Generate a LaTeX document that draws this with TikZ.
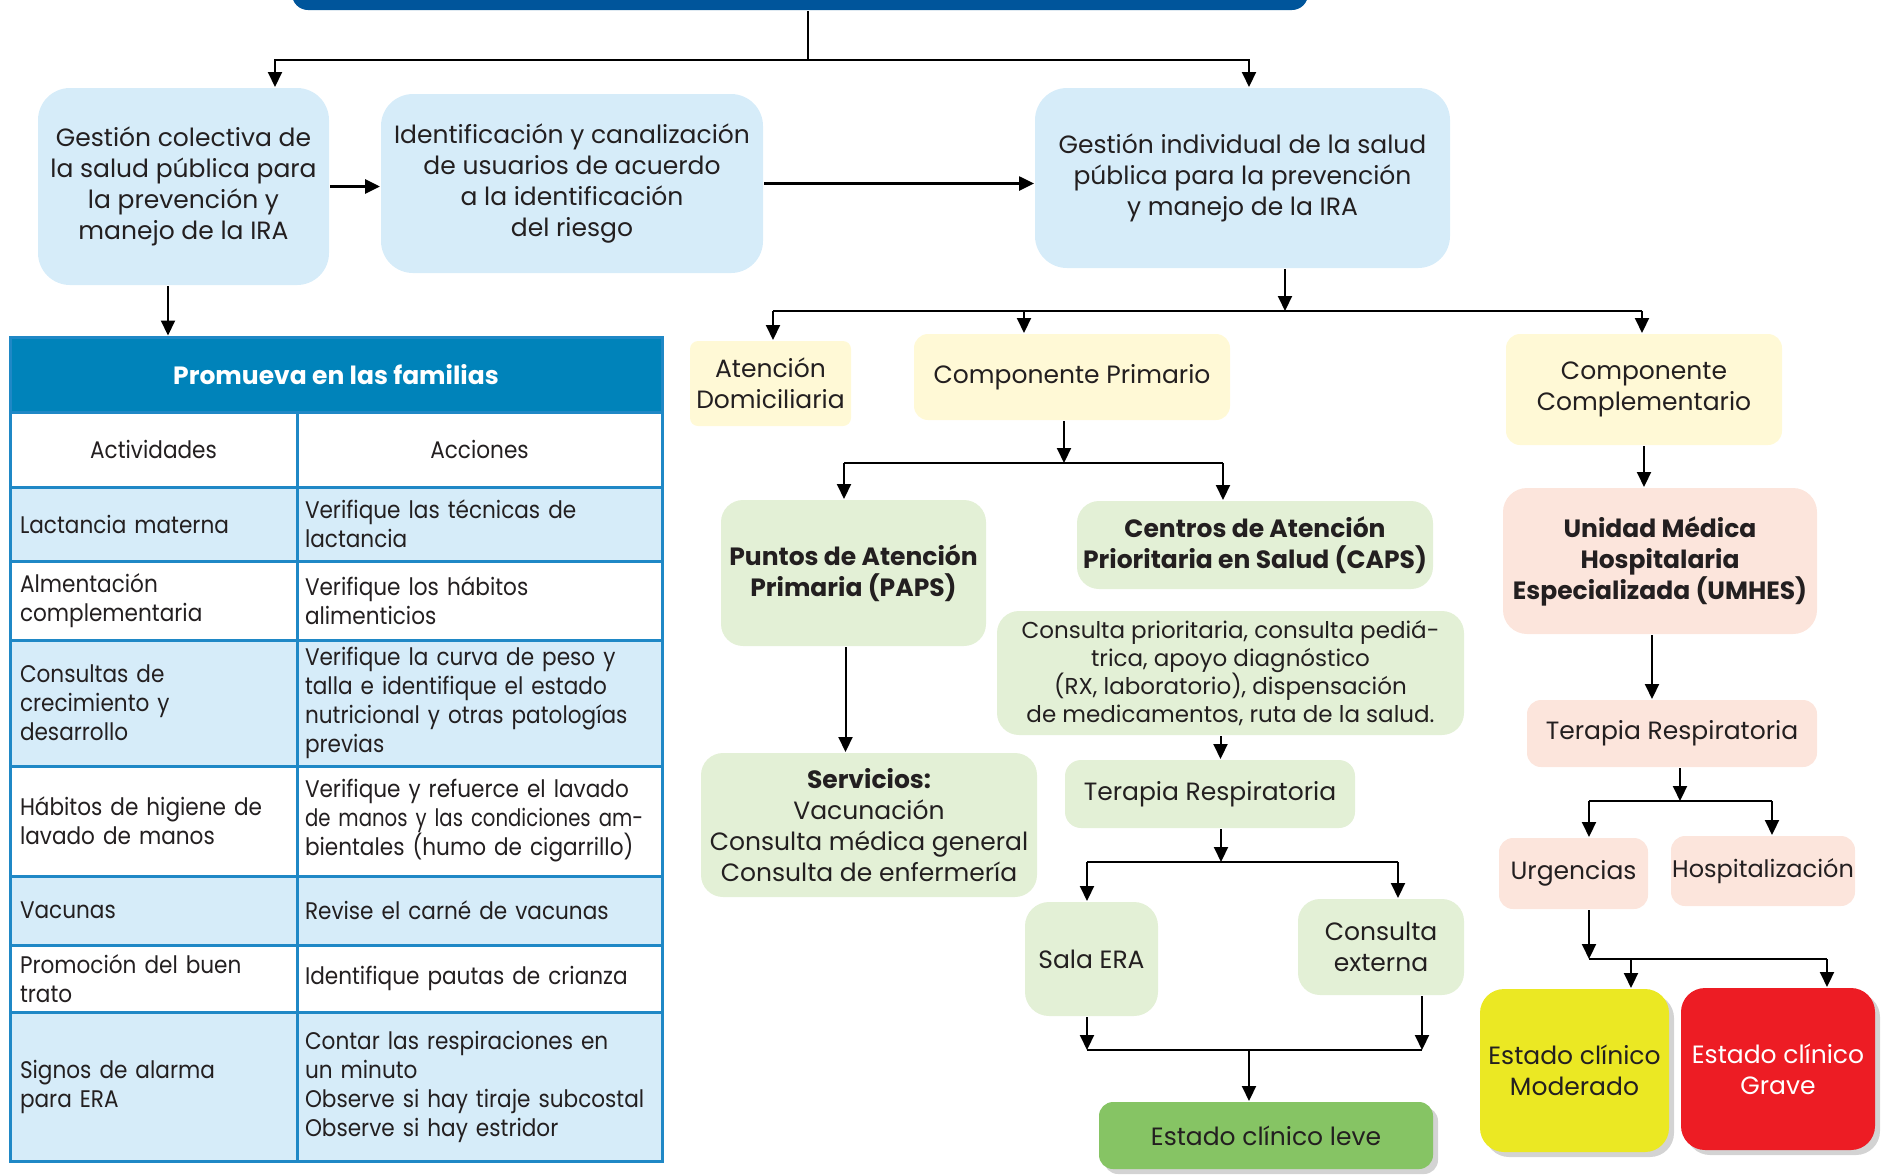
\documentclass[tikz,border=0pt]{standalone}
\usepackage{fontspec}
\setmainfont{Poppins}
\newfontfamily\tablefont[FakeStretch=0.9]{Poppins}
\newfontfamily\narrowfont[FakeStretch=0.82]{Poppins}
\usepackage{tikz}
\usetikzlibrary{arrows.meta,positioning,shadows}

\definecolor{barblue}{HTML}{00559B}
\definecolor{boxblue}{HTML}{D6ECF9}
\definecolor{headblue}{HTML}{0083BA}
\definecolor{lineblue}{HTML}{1F88C6}
\definecolor{boxyellow}{HTML}{FFF9D6}
\definecolor{boxgreen}{HTML}{E3F0D6}
\definecolor{boxpink}{HTML}{FCE5DC}
\definecolor{levegreen}{HTML}{86C464}
\definecolor{modyellow}{HTML}{EBE823}
\definecolor{graved}{HTML}{ED1C24}
\definecolor{txt}{HTML}{231F20}

\begin{document}
\begin{tikzpicture}[x=0.5pt,y=-0.5pt,->,>={Triangle[length=7.5pt,width=7pt]},line width=1pt,
	txtnode/.style={align=center,text=txt,font=\fontsize{12.5}{15.5}\selectfont,inner sep=0pt},
	bluenode/.style={txtnode,fill=boxblue,rounded corners=16pt},
	yellownode/.style={txtnode,fill=boxyellow,rounded corners=7pt},
	greennode/.style={txtnode,fill=boxgreen,rounded corners=11pt},
	pinknode/.style={txtnode,fill=boxpink,rounded corners=7pt},
	statenode/.style={txtnode,rounded corners=12pt,drop shadow={opacity=0.35,shadow xshift=2.5pt,shadow yshift=-2.5pt}},
	cellnode/.style={draw=lineblue,line width=1.5pt,text=txt,font=\tablefont\fontsize{12}{14.5}\selectfont,inner xsep=5pt,inner ysep=0pt,align=left},
	leftcell/.style={cellnode,text width=133.5pt},
	rightcell/.style={cellnode,inner xsep=4pt,text width=174.5pt}]
	
	\useasboundingbox (0,0) rectangle (1885,1175);
	
	\node [fill=barblue,rounded corners=8pt,minimum width=508pt,minimum height=30pt,inner sep=0pt] (titulo) at (800,-20) {};
	
	\node [bluenode,minimum width=145.5pt,minimum height=98.5pt] (gcol) at (183.5,186.5) {Gestión colectiva de\\la salud pública para\\la prevención y\\manejo de la IRA};
	\node [bluenode,minimum width=191pt,minimum height=89.5pt] (ident) at (572,183.5) {Identificación y canalización\\de usuarios de acuerdo\\a la identificación\\del riesgo};
	\node [bluenode,minimum width=207.5pt,minimum height=90pt] (gind) at (1242.5,178) {Gestión individual de la salud\\pública para la prevención\\y manejo de la IRA};
	
	% tabla
	\node [cellnode,fill=headblue,text=white,font=\fontsize{12.5}{15}\selectfont\bfseries,minimum width=326pt,minimum height=37.5pt,align=center] (promueva) at (336,374.5) {Promueva en las familias};
	\node [leftcell,fill=white,minimum height=37.5pt,align=center] (act) at (153.5,449.5) {Actividades};
	\node [rightcell,fill=white,minimum height=37.5pt,align=center] (acc) at (479.5,449.5) {Acciones};
	\node [leftcell,fill=boxblue,minimum height=37pt] (act1) at (153.5,524) {Lactancia materna};
	\node [rightcell,fill=boxblue,minimum height=37pt] (acc1) at (479.5,524) {Verifique las técnicas de\\lactancia};
	\node [leftcell,fill=white,minimum height=39.5pt] (act2) at (153.5,600.5) {Almentación\\complementaria};
	\node [rightcell,fill=white,minimum height=39.5pt] (acc2) at (479.5,600.5) {Verifique los hábitos\\alimenticios};
	\node [leftcell,fill=boxblue,minimum height=63pt] (act3) at (153.5,703) {Consultas de\\crecimiento y\\desarrollo};
	\node [rightcell,fill=boxblue,minimum height=63pt] (acc3) at (479.5,703) {Verifique la curva de peso y\\talla e identifique el estado\\nutricional y otras patologías\\previas};
	\node [leftcell,fill=white,minimum height=55pt] (act4) at (153.5,821) {Hábitos de higiene de\\lavado de manos};
	\node [rightcell,fill=white,minimum height=55pt] (acc4) at (479.5,821) {Verifique y refuerce el lavado\\{\narrowfont de manos y las condiciones am-}\\bientales (humo de cigarrillo)};
	\node [leftcell,fill=boxblue,minimum height=34.5pt] (act5) at (153.5,910.5) {Vacunas};
	\node [rightcell,fill=boxblue,minimum height=34.5pt] (acc5) at (479.5,910.5) {Revise el carné de vacunas};
	\node [leftcell,fill=white,minimum height=33.5pt] (act6) at (153.5,978.5) {Promoción del buen\\trato};
	\node [rightcell,fill=white,minimum height=33.5pt] (acc6) at (479.5,978.5) {Identifique pautas de crianza};
	\node [leftcell,fill=boxblue,minimum height=74.5pt] (act7) at (153.5,1086.5) {Signos de alarma\\para ERA};
	\node [rightcell,fill=boxblue,minimum height=74.5pt] (acc7) at (479.5,1086.5) {Contar las respiraciones en\\un minuto\\Observe si hay tiraje subcostal\\Observe si hay estridor};
	
	% componentes
	\node [yellownode,rounded corners=4pt,minimum width=80.5pt,minimum height=42.5pt] (adom) at (770.5,383.5) {Atención\\Domiciliaria};
	\node [yellownode,minimum width=158pt,minimum height=43pt] (cprim) at (1072,377) {Componente Primario};
	\node [yellownode,minimum width=138pt,minimum height=55.5pt] (ccomp) at (1644,389.5) {Componente\\Complementario};
	
	\node [greennode,minimum width=132.5pt,minimum height=73pt,font=\fontsize{12.5}{15.5}\selectfont\bfseries] (paps) at (853.5,573) {Puntos de Atención\\Primaria (PAPS)};
	\node [greennode,minimum width=178pt,minimum height=44pt,font=\fontsize{12.5}{15.5}\selectfont\bfseries] (caps) at (1255,545) {Centros de Atención\\Prioritaria en Salud (CAPS)};
	\node [greennode,minimum width=233.5pt,minimum height=62pt,font=\fontsize{11.5}{14}\selectfont] (cprio) at (1230.5,673) {Consulta prioritaria, consulta pediá-\\trica, apoyo diagnóstico\\(RX, laboratorio), dispensación\\de medicamentos, ruta de la salud.};
	\node [greennode,minimum width=168pt,minimum height=72pt] (servicios) at (869,825) {\textbf{Servicios:}\\Vacunación\\Consulta médica general\\Consulta de enfermería};
	\node [greennode,rounded corners=8pt,minimum width=145pt,minimum height=34pt] (terv) at (1210,794) {Terapia Respiratoria};
	\node [greennode,rounded corners=12pt,minimum width=66.5pt,minimum height=57pt] (sala) at (1091.5,959) {Sala ERA};
	\node [greennode,minimum width=83pt,minimum height=48pt] (cext) at (1381,947) {Consulta\\externa};
	\node [statenode,fill=levegreen,rounded corners=7pt,minimum width=167pt,minimum height=33.5pt] (leve) at (1266,1135.5) {Estado clínico leve};
	
	\node [pinknode,rounded corners=12pt,minimum width=157pt,minimum height=73pt,font=\fontsize{12.5}{15.5}\selectfont\bfseries] (umhes) at (1660,561) {Unidad Médica\\Hospitalaria\\Especializada (UMHES)};
	\node [pinknode,minimum width=145pt,minimum height=33.5pt] (terr) at (1672,733.5) {Terapia Respiratoria};
	\node [pinknode,minimum width=74.5pt,minimum height=35.5pt] (urg) at (1573.5,873.5) {Urgencias};
	\node [pinknode,minimum width=92pt,minimum height=35pt,font=\fontsize{12}{15}\selectfont] (hosp) at (1763,871) {Hospitalización};
	\node [statenode,fill=modyellow,minimum width=94.5pt,minimum height=81.5pt] (moder) at (1574.5,1070.5) {Estado clínico\\Moderado};
	\node [statenode,fill=graved,text=white,minimum width=97pt,minimum height=81pt] (grave) at (1778,1069) {Estado clínico\\Grave};
	
	% conectores
	\coordinate (tsplit) at (808,60);
	\coordinate (tleft) at (275,60);
	\coordinate (tright) at (1249,60);
	\draw[-] (titulo.south -| tsplit) -- (tsplit);
	\draw (tsplit) -- (tleft) -- (tleft |- gcol.north);
	\draw (tsplit) -- (tright) -- (tright |- gind.north);
	
	\draw[line width=1.6pt] (gcol.east) -- (gcol.east -| ident.west);
	\draw[line width=1.3pt] (ident.east) -- (ident.east -| gind.west);
	\draw ([xshift=-7.75pt]gcol.south) -- ([xshift=-7.75pt]gcol.south |- promueva.north);
	
	\coordinate (csplit) at (1285,311);
	\coordinate (cleft) at (773,311);
	\coordinate (cmid) at (1024,311);
	\coordinate (cright) at (1642,311);
	\draw (gind.south -| csplit) -- (csplit);
	\draw[-] (cleft) -- (cright);
	\draw (cleft) -- (cleft |- adom.north);
	\draw (cmid) -- (cmid |- cprim.north);
	\draw (cright) -- (cright |- ccomp.north);
	
	\coordinate (psplit) at (1064,463);
	\coordinate (pleft) at (844,463);
	\coordinate (pright) at (1223,463);
	\draw (cprim.south -| psplit) -- (psplit);
	\draw[-] (pleft) -- (pright);
	\draw (pleft) -- (pleft |- paps.north);
	\draw (pright) -- (pright |- caps.north);
	\draw ([xshift=-4pt]paps.south) -- ([xshift=-4pt]paps.south |- servicios.north);
	\draw ([xshift=-5pt]cprio.south) -- ([xshift=-5pt]cprio.south |- terv.north);
	
	\coordinate (vsplit) at (1221,862);
	\coordinate (vleft) at (1087,862);
	\coordinate (vright) at (1398,862);
	\draw ([xshift=5.5pt]terv.south) -- (vsplit);
	\draw[-] (vleft) -- (vright);
	\draw (vleft) -- (vleft |- sala.north);
	\draw (vright) -- (vright |- cext.north);
	
	\coordinate (lleft) at (1087,1050);
	\coordinate (lsplit) at (1249,1050);
	\coordinate (lright) at (1422,1050);
	\draw (sala.south -| lleft) -- (lleft);
	\draw (cext.south -| lright) -- (lright);
	\draw[-] (lleft) -- (lright);
	\draw (lsplit) -- (lsplit |- leve.north);
	
	\draw (ccomp.south) -- (ccomp.south |- umhes.north);
	\draw ([xshift=-4pt]umhes.south) -- ([xshift=-4pt]umhes.south |- terr.north);
	\coordinate (rsplit) at (1680,801);
	\coordinate (rleft) at (1589,801);
	\coordinate (rright) at (1772,801);
	\draw ([xshift=4pt]terr.south) -- (rsplit);
	\draw[-] (rleft) -- (rright);
	\draw (rleft) -- (rleft |- urg.north);
	\draw (rright) -- (rright |- hosp.north);
	
	\coordinate (uleft) at (1589,959);
	\coordinate (umid) at (1631,959);
	\coordinate (uright) at (1827,959);
	\draw ([xshift=7.75pt]urg.south) -- (uleft);
	\draw[-] (uleft) -- (uright);
	\draw (umid) -- (umid |- moder.north);
	\draw (uright) -- (uright |- grave.north);
\end{tikzpicture}
\end{document}
